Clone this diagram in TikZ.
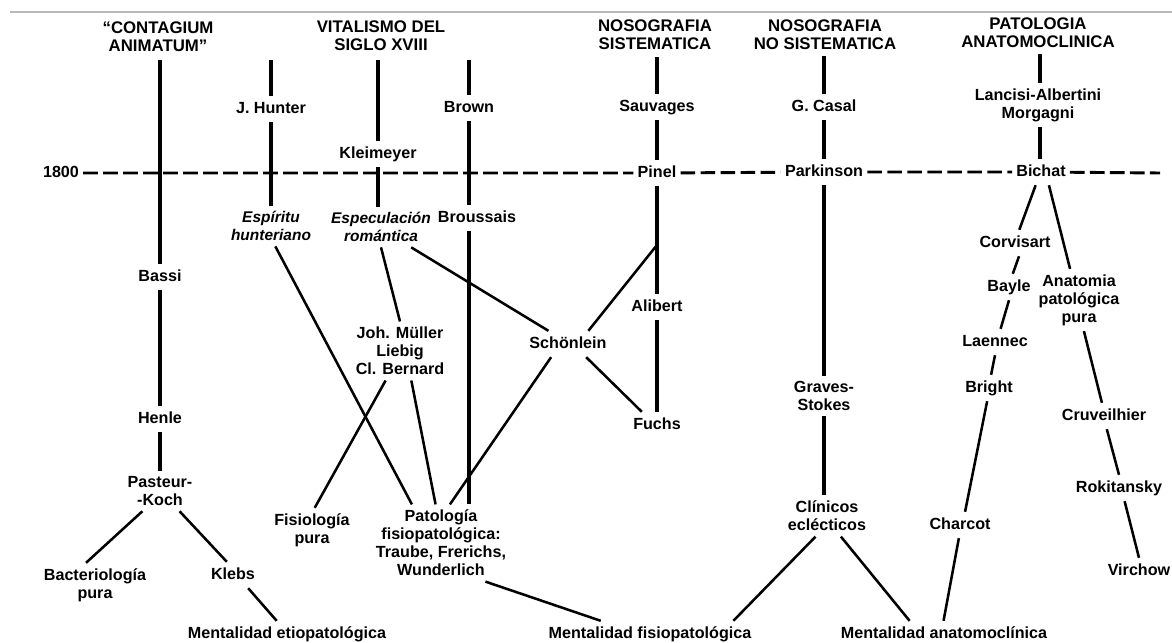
\documentclass[tikz,border=0pt]{standalone}
\usepackage{fontspec}
\setmainfont{Liberation Sans}
\newcommand\labelfont{\fontsize{12.1pt}{13.5pt}\selectfont\bfseries}
\newcommand\itfont{\fontsize{11.6pt}{13.5pt}\selectfont\bfseries\itshape}
\newcommand\headfont{\fontsize{12.6pt}{13.5pt}\selectfont\bfseries}
\tikzset{
  lbl/.style={inner xsep=3pt, inner ysep=4pt, font=\labelfont},
  one/.style={lbl, text height=9pt, text depth=2.4pt},
  multi/.style={lbl, align=center},
  hdr/.style={multi, font=\headfont},
  it/.style={font=\itfont},
  vline/.style={line width=2.4pt},
  dline/.style={line width=1.9pt},
  dash1800/.style={line width=2.2pt, dash pattern=on 11pt off 4pt}
}
\begin{document}
\begin{tikzpicture}[x=0.75pt,y=-0.75pt]
\useasboundingbox (0,0) rectangle (1172,643);
\draw[gray!55, line width=1.2pt] (10,12) -- (1172,12);
% headers
\node[hdr] (h1) at (158,37) {“CONTAGIUM\\ANIMATUM”};
\node[hdr] (h2) at (381,36) {VITALISMO DEL\\SIGLO XVIII};
\node[hdr] (h3) at (655,35) {NOSOGRAFIA\\SISTEMATICA};
\node[hdr] (h4) at (825,35) {NOSOGRAFIA\\NO SISTEMATICA};
\node[hdr] (h5) at (1038,33) {PATOLOGIA\\ANATOMOCLINICA};
\node[one] (n1800) at (61,173) {1800};
% column 1
\coordinate (c1top) at (160,60);
\node[one] (bassi) at (160,277) {Bassi};
\node[one] (henle) at (160,419) {Henle};
\node[multi] (pasteur) at (160,491) {Pasteur-\\-Koch};
\node[multi] (bact) at (95,585) {Bacteriología\\pura};
\node[one] (klebs) at (233,575) {Klebs};
\node[one] (metio) at (287,634) {Mentalidad etiopatológica};
% column 2
\coordinate (c2top) at (271,60);
\node[one] (hunter) at (271,109) {J. Hunter};
\node[multi,it] (espiritu) at (271,226) {Espíritu\\hunteriano};
% column 3
\coordinate (c3top) at (378,60);
\node[one] (kiel) at (378,154) {Kleimeyer};
\node[multi,it] (especul) at (381,227) {Especulación\\romántica};
\node[multi] (muller) at (400,351) {Joh. Müller\\Liebig\\Cl. Bernard};
\node[multi] (fisiol) at (312,530) {Fisiología\\pura};
% column 4
\coordinate (c4top) at (469,60);
\node[one] (brown) at (469,108) {Brown};
\node[one] (brouss) at (477,218) {Broussais};
\node[multi] (patol) at (441,543) {Patología\\fisiopatológica:\\Traube, Frerichs,\\Wunderlich};
\node[one] (mfisio) at (650,634) {Mentalidad fisiopatológica};
% column 5
\coordinate (c5top) at (657,57);
\node[one] (sauv) at (657,107) {Sauvages};
\node[one] (pinel) at (657,173) {Pinel};
\node[one] (alibert) at (657,307) {Alibert};
\node[one] (fuchs) at (657,425) {Fuchs};
\node[one] (schon) at (568,344) {Schönlein};
\coordinate (b5) at (657,245);
% column 6
\coordinate (c6top) at (824,56);
\node[one] (casal) at (824,107) {G. Casal};
\node[one] (parkinson) at (824,172) {Parkinson};
\node[multi] (graves) at (824,396) {Graves-\\Stokes};
\node[multi] (clinicos) at (827,516) {Clínicos\\eclécticos};
\node[one] (manat) at (944,634) {Mentalidad anatomoclínica};
% column 7
\coordinate (c7top) at (1040,54);
\node[multi] (lancisi) at (1038,105) {Lancisi-Albertini\\Morgagni};
\node[one] (bichat) at (1041,172) {Bichat};
\node[one] (corvisart) at (1015,243) {Corvisart};
\node[one] (bayle) at (1009,287) {Bayle};
\node[one] (laennec) at (995,342) {Laennec};
\node[one] (bright) at (989,388) {Bright};
\node[one] (charcot) at (960,525) {Charcot};
\node[multi] (anat) at (1079,300) {Anatomia\\patológica\\pura};
\node[one] (cruv) at (1104,416) {Cruveilhier};
\node[one] (rokit) at (1119,488) {Rokitansky};
\node[one] (virchow) at (1139,571) {Virchow};
\coordinate (dend) at (1160,173);
% 1800 line
\draw[dash1800] (n1800) -- (pinel) (pinel) -- (parkinson) (parkinson) -- (bichat) (bichat) -- (dend);
% connectors column 1
\draw[vline] (c1top) -- (bassi) (bassi) -- (henle) (henle) -- (pasteur);
\draw[dline] (pasteur.229) -- (bact.112) (pasteur.314) -- (klebs.115) (klebs.319) -- (metio.128);
% column 2
\draw[vline] (c2top) -- (hunter) (hunter) -- (espiritu);
\draw[dline] (espiritu.282) -- (patol.127);
% column 3
\draw[vline] (c3top) -- (kiel) (kiel) -- (kiel |- especul.north);
\draw[dline] (especul.south) -- (muller.north) (especul.326) -- (schon.146)
  (muller.244) -- (fisiol.83) (muller.291) -- (patol.98);
% column 4
\draw[vline] (c4top) -- (brown) (brown) -- (brown |- brouss.north)
  (brouss.south -| brown) -- (brown |- patol.north);
\draw[dline] (schon.218) -- (patol.77) (patol.319) -- (mfisio.165);
% column 5
\draw[vline] (c5top) -- (sauv) (sauv) -- (pinel) (pinel) -- (alibert) (alibert) -- (fuchs);
\draw[dline] (b5) -- (schon.33) (schon.324) -- (fuchs.139);
% column 6
\draw[vline] (c6top) -- (casal) (casal) -- (parkinson) (parkinson) -- (graves)
  (graves) -- (graves |- clinicos.north);
\draw[dline] (clinicos.241) -- (mfisio.9) (clinicos.304) -- (manat.159);
% column 7
\draw[vline] (c7top) -- (c7top |- lancisi.north) (lancisi.south -| c7top) -- (c7top |- bichat.north);
\draw[dline] (bichat.248) -- (corvisart.72) (corvisart.287) -- (bayle.74)
  (bayle.south) -- (laennec.67) (laennec.south) -- (bright.81)
  (bright.262) -- (charcot.69) (charcot.265) -- (manat.92)
  (bichat.301) -- (anat.106) (anat.279) -- (cruv.99)
  (cruv.282) -- (rokit.north) (rokit.293) -- (virchow.north);
\end{tikzpicture}
\end{document}
